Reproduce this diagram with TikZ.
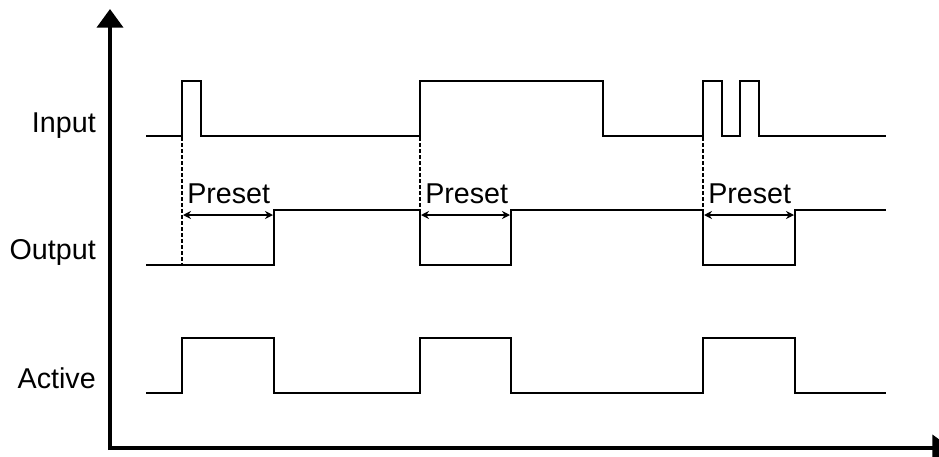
\documentclass[tikz,border=0pt]{standalone}
\usepackage{fontspec}
\setmainfont{Liberation Sans}
\usepackage{tikz}
\usetikzlibrary{arrows.meta}

\begin{document}
\begin{tikzpicture}[x=0.75pt, y=-0.75pt, font=\fontsize{21.5}{25}\selectfont,
    axis/.style={line width=3pt, -{Triangle[width=19.5pt, length=14pt]}},
    wave/.style={line width=1.4pt, line join=miter},
    lbl/.style={anchor=base east, inner sep=0pt}]
    \clip (0,0) rectangle (939,457);
    \coordinate (O) at (110,448);
    \coordinate (ytop) at (110,9);
    \coordinate (xend) at (951,448);
    \draw[axis] ([yshift=-1.5pt]O) -- (ytop);
    \draw[axis] ([xshift=-1.5pt]O) -- (xend);
    \node[lbl] (input) at (96,132) {Input};
    \node[lbl] (output) at (96,259) {Output};
    \node[lbl] (active) at (96,388) {Active};
    \draw[wave] (146,136) -- (182,136) -- (182,81) -- (201,81) -- (201,136) -- (420,136) -- (420,81) -- (603,81) -- (603,136)
        -- (703,136) -- (703,81) -- (722,81) -- (722,136) -- (740,136) -- (740,81) -- (759,81) -- (759,136) -- (886,136);
    \draw[wave] (146,265) -- (274,265) -- (274,210) -- (420,210) -- (420,265) -- (511,265) -- (511,210)
        -- (703,210) -- (703,265) -- (795,265) -- (795,210) -- (886,210);
    \draw[wave] (146,393) -- (182,393) -- (182,338) -- (274,338) -- (274,393) -- (420,393) -- (420,338) -- (511,338) -- (511,393)
        -- (703,393) -- (703,338) -- (795,338) -- (795,393) -- (886,393);
    \foreach \a/\b/\c in {182/274/265, 420/511/210, 703/795/210} {
        \draw[line width=1pt, dash pattern=on 3pt off 1.5pt] (\a,137) -- (\a,\c);
        \draw[line width=2pt, {Stealth[length=6pt, width=6pt]}-{Stealth[length=6pt, width=6pt]}] (\a+1,215) -- (\b-1,215);
        \node[anchor=base west, inner sep=0pt] at (\a+5,203) {Preset};
    }
\end{tikzpicture}
\end{document}
